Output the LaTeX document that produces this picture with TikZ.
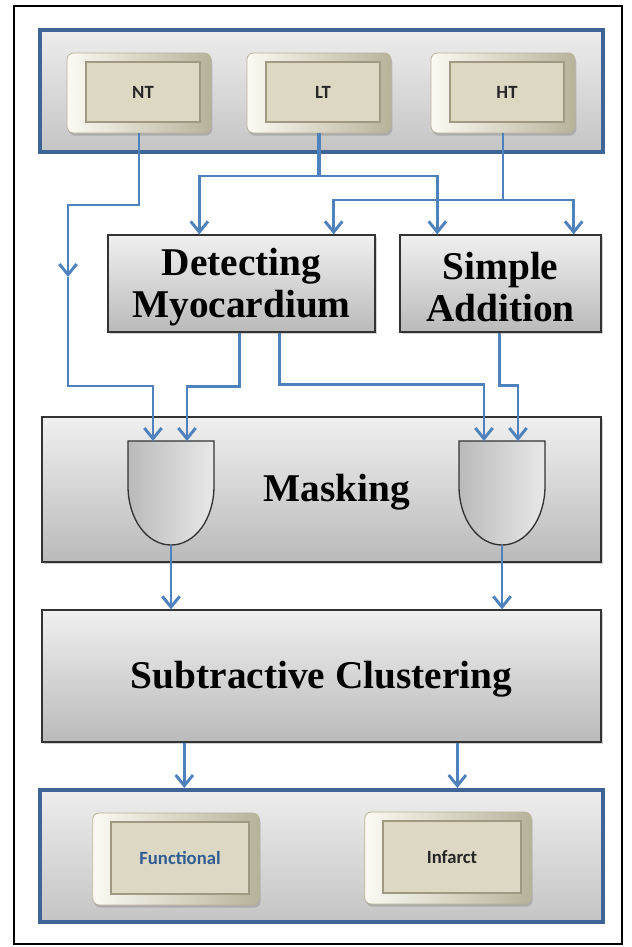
\documentclass[tikz,border=0pt]{standalone}
\usepackage{fontspec}
\setmainfont{Liberation Serif}
\newfontfamily\keyfont{Carlito}
\usetikzlibrary{arrows.meta,calc,shadows}

\definecolor{flowblue}{HTML}{4F81BD}
\definecolor{panelblue}{HTML}{3F6598}
\definecolor{keybeige}{HTML}{DDD8C3}
\definecolor{keyedge}{HTML}{9E9980}
\definecolor{keycream}{HTML}{FBFAF2}
\definecolor{keydark}{HTML}{B7B29A}
\definecolor{funcblue}{HTML}{2F5C93}

\tikzset{
  flow/.style={draw=flowblue, line width=2.2pt, -{Straight Barb[length=8pt,width=13pt]}},
  panel/.style={draw=panelblue, line width=3pt, top color=black!7, bottom color=black!23,
    drop shadow={opacity=0.3, shadow xshift=1.5pt, shadow yshift=-1.5pt}},
  stage/.style={draw=black!80, line width=1pt, top color=black!6, bottom color=black!27,
    drop shadow={opacity=0.35, shadow xshift=1.5pt, shadow yshift=-1.5pt},
    align=center, inner sep=0pt, font=\bfseries\fontsize{29.5}{31.5}\selectfont},
  stagetext/.style={font=\bfseries\fontsize{29.5}{31.5}\selectfont},
  keybody/.style={rounded corners=5pt, draw=keydark, line width=.6pt,
    left color=keycream, right color=keydark,
    drop shadow={opacity=0.4, shadow xshift=1pt, shadow yshift=-2pt}},
  keyface/.style={draw=keyedge, line width=1.3pt, fill=keybeige, inner sep=0pt,
    font=\keyfont\bfseries\fontsize{14}{16}\selectfont},
  gatebody/.style={draw=black!80, line width=1pt, left color=black!27, right color=black!9},
  maskgate/.pic={
    \path[gatebody] (-43,0) -- (43,0) -- (43,45) .. controls (43,78) and (24,104) .. (0,104)
      .. controls (-24,104) and (-43,78) .. (-43,45) -- cycle;
    \coordinate (-in1) at (-18,0);
    \coordinate (-in2) at (16,0);
    \coordinate (-out) at (0,104);
  }
}

% key cap: name, position, width, height, text, text colour
\newcommand{\keycap}[6]{%
  \node[keybody, minimum width=#3, minimum height=#4] (#1) at (#2) {};
  \node[keyface, minimum width=#3-22pt, minimum height=#4-15pt, text=#6] (#1face)
    at ([xshift=3pt,yshift=0.75pt]#1.center) {#5};}

\begin{document}
\begin{tikzpicture}[x=0.75pt, y=-0.75pt]
  \fill[white] (0,0) rectangle (632,947);
  \useasboundingbox (0,0) rectangle (632,947);
  \draw[line width=1.5pt] (14,6) rectangle (622,944);

  % inputs
  \node[panel, minimum width=422.25pt, minimum height=91.5pt] (src) at (321.5,91) {};
  \keycap{nt}{139,93}{108pt}{60pt}{NT}{black!85}
  \keycap{lt}{319,93}{108pt}{60pt}{LT}{black!85}
  \keycap{ht}{503,93}{108pt}{60pt}{HT}{black!85}

  % processing
  \node[stage, minimum width=200.25pt, minimum height=72.75pt] (det) at (241.5,283.5) {};
  \node[stagetext, align=center] (detlabel) at (241.5,287) {Detecting\\Myocardium};
  \node[stage, minimum width=150.75pt, minimum height=72.75pt] (add) at (500.5,283.5) {};
  \node[stagetext, align=center] (addlabel) at (500.5,287) {Simple\\Addition};
  \node[stage, minimum width=419.25pt, minimum height=108.75pt] (mask) at (321.5,489.5) {};
  \node[stagetext] (masklabel) at (337,492) {Masking};
  \pic (gateA) at (171,441) {maskgate};
  \pic (gateB) at (502,441) {maskgate};
  \node[stage, minimum width=419.25pt, minimum height=99pt] (sub) at (321.5,676) {};
  \node[stagetext] (sublabel) at (321.5,679) {Subtractive Clustering};

  % outputs
  \node[panel, minimum width=422.25pt, minimum height=99pt] (res) at (321.5,856) {};
  \keycap{func}{176,859}{125pt}{69pt}{Functional}{funcblue}
  \keycap{inf}{448,858}{125pt}{69pt}{Infarct}{black!85}

  % connectors
  \coordinate (ntmid) at (68,277);
  \draw[flow] (nt.south) -- (139,205) -- (68,205) -- (ntmid);
  \draw[flow] (ntmid) -- (68,386) -| (gateA-in1);
  \draw[flow, -, line width=3pt] (lt.south) -- (319,176);
  \draw[flow] (319,176) -| ($(det.north west)+(92,0)$);
  \draw[flow] (319,176) -| ($(add.north west)+(38,0)$);
  \draw[flow] (ht.south) -- (503,200) -| ($(det.north east)+(-42,0)$);
  \draw[flow] (503,200) -| ($(add.north east)+(-28,0)$);
  \draw[flow] ($(det.south west)+(132,0)$) -- ++(0,54) -| (gateA-in2);
  \draw[flow] ($(det.south west)+(172,0)$) -- ++(0,52) -| (gateB-in1);
  \draw[flow] ($(add.south west)+(100,0)$) -- ++(0,53) -| (gateB-in2);
  \draw[flow] (gateA-out) -- (gateA-out |- sub.north);
  \draw[flow] (gateB-out) -- (gateB-out |- sub.north);
  \coordinate (subout1) at ($(sub.south west)+(143,0)$);
  \coordinate (subout2) at ($(sub.south west)+(416,0)$);
  \draw[flow] (subout1) -- (subout1 |- res.north);
  \draw[flow] (subout2) -- (subout2 |- res.north);
\end{tikzpicture}
\end{document}
